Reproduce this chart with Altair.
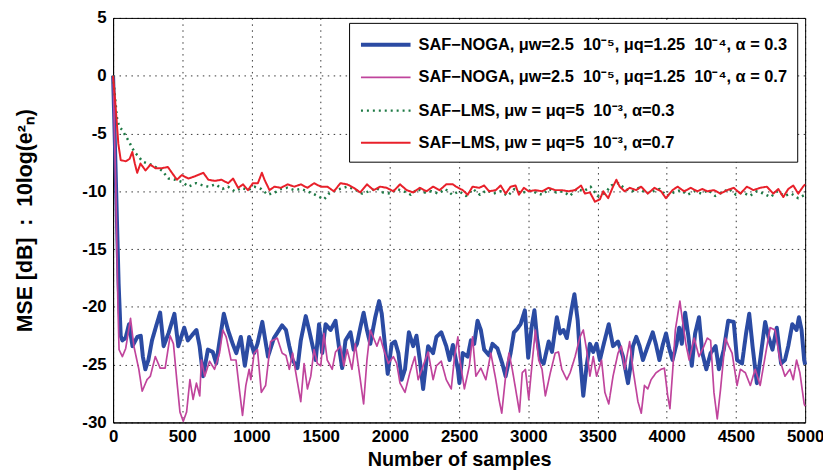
import altair as alt
import pandas as pd

# ---------------- data ----------------
NB = "\u00a0"
L1 = f"SAF−NOGA, μw=2.5{NB}{NB}10⁻⁵, μq=1.25{NB}{NB}10⁻⁴, α = 0.3"
L2 = f"SAF−NOGA, μw=2.5{NB}{NB}10⁻⁵, μq=1.25{NB}{NB}10⁻⁴, α = 0.7"
L3 = f"SAF−LMS, μw = μq=5{NB}{NB}10⁻³, α=0.3"
L4 = f"SAF−LMS, μw = μq=5{NB}{NB}10⁻³, α=0.7"
series_names = [L1, L2, L3, L4]
series_colors = ["#2B4BA3", "#C0449C", "#1E7A45", "#E8202A"]

noga03_x = [0, 20, 40, 55, 67, 90, 115, 140, 175, 200, 215, 233, 255, 281, 315, 340, 365, 400, 443, 471,
            514, 540, 567, 602, 625, 650, 685, 720, 745, 770, 800, 830, 864, 890, 923, 952, 983, 1019, 1043, 1078,
            1119, 1162, 1221, 1249, 1273, 1297, 1332, 1356, 1392, 1416, 1440, 1464, 1488, 1511, 1535, 1571, 1607, 1631, 1655, 1679,
            1715, 1738, 1762, 1786, 1810, 1834, 1858, 1894, 1922, 1941, 1965, 1984, 2013, 2037, 2061, 2085, 2109, 2137, 2168, 2192,
            2216, 2240, 2276, 2312, 2336, 2371, 2407, 2431, 2455, 2491, 2502, 2526, 2562, 2585, 2609, 2633, 2657, 2681, 2717, 2741,
            2777, 2812, 2836, 2872, 2896, 2920, 2944, 2975, 2999, 3023, 3044, 3063, 3087, 3111, 3147, 3171, 3206, 3230, 3254, 3278,
            3314, 3333, 3357, 3373, 3397, 3421, 3445, 3469, 3493, 3517, 3541, 3581, 3612, 3648, 3684, 3720, 3740, 3756, 3780, 3804,
            3828, 3863, 3899, 3923, 3947, 3971, 3995, 4018, 4042, 4071, 4090, 4109, 4133, 4157, 4181, 4205, 4233, 4257, 4286, 4317,
            4353, 4377, 4412, 4444, 4484, 4508, 4544, 4573, 4596, 4620, 4651, 4675, 4711, 4735, 4764, 4795, 4826, 4854, 4878, 4907,
            4938, 4955, 4974, 4993, 5000]
noga03_y = [0, -9, -18, -22.5, -22.9, -22.7, -21.5, -23.4, -22.6, -22.5, -24.3, -25.4, -24.6, -22.9, -21.5, -20.5, -23.4, -22.3, -20.6, -23.4,
            -21.8, -22.9, -22.5, -22.0, -23.4, -26.0, -23.7, -23.9, -24.9, -22.9, -20.6, -22.0, -23.2, -24.0, -22.6, -25.1, -22.6, -24.0, -23.2, -21.3,
            -24.3, -22.7, -21.6, -22.0, -23.4, -24.6, -25.3, -22.9, -20.8, -22.0, -23.3, -24.6, -21.5, -24.0, -21.5, -22.0, -21.2, -23.4, -25.3, -22.9,
            -22.2, -23.7, -23.2, -21.8, -20.5, -22.0, -23.2, -20.9, -19.5, -20.6, -23.4, -25.8, -23.2, -23.0, -24.0, -26.3, -25.4, -22.2, -23.4, -22.5,
            -24.6, -27.1, -23.4, -24.0, -22.6, -22.2, -23.4, -24.6, -23.3, -25.4, -26.6, -24.0, -24.3, -22.9, -23.2, -21.2, -22.0, -23.7, -24.2, -23.2,
            -23.6, -24.9, -26.0, -24.0, -22.2, -21.9, -21.5, -20.3, -24.4, -21.8, -20.3, -22.7, -24.6, -24.9, -23.0, -23.9, -20.9, -22.3, -22.0, -22.7,
            -20.1, -18.9, -21.2, -24.3, -27.7, -25.1, -23.2, -23.9, -23.2, -24.6, -23.4, -21.5, -23.4, -23.0, -24.3, -26.6, -25.0, -23.4, -22.6, -23.4,
            -24.6, -23.4, -22.2, -23.3, -24.6, -23.3, -22.3, -23.6, -24.6, -23.2, -21.8, -23.2, -20.5, -22.6, -25.1, -22.3, -20.9, -24.0, -25.4, -24.0,
            -23.4, -25.4, -23.7, -21.2, -21.3, -24.6, -24.9, -22.3, -20.6, -23.4, -26.6, -24.6, -21.3, -22.6, -23.7, -21.8, -24.9, -24.6, -23.4, -21.5,
            -22.0, -20.9, -22.0, -24.6, -25.0]

noga07_x = [0, 20, 35, 43, 67, 91, 126, 150, 186, 210, 245, 269, 305, 340, 376, 412, 436, 460, 483, 507,
            531, 555, 578, 602, 626, 638, 662, 697, 733, 769, 793, 817, 852, 888, 912, 935, 959, 983, 995, 1019,
            1043, 1071, 1102, 1138, 1186, 1221, 1249, 1273, 1297, 1320, 1356, 1380, 1404, 1428, 1452, 1476, 1500, 1523, 1547, 1583,
            1607, 1643, 1667, 1691, 1726, 1750, 1786, 1810, 1834, 1858, 1882, 1906, 1929, 1953, 1989, 2025, 2049, 2073, 2109, 2144,
            2180, 2204, 2240, 2276, 2312, 2336, 2371, 2407, 2443, 2467, 2491, 2502, 2538, 2574, 2597, 2621, 2657, 2693, 2729, 2765,
            2788, 2808, 2836, 2860, 2884, 2908, 2936, 2956, 2979, 3003, 3027, 3051, 3075, 3099, 3123, 3159, 3194, 3218, 3242, 3278,
            3302, 3338, 3373, 3397, 3421, 3445, 3469, 3493, 3529, 3553, 3581, 3612, 3648, 3672, 3696, 3732, 3756, 3792, 3816, 3839,
            3863, 3887, 3923, 3959, 3983, 4007, 4023, 4042, 4062, 4095, 4114, 4138, 4162, 4198, 4233, 4269, 4293, 4317, 4341, 4365,
            4389, 4424, 4448, 4472, 4508, 4532, 4568, 4604, 4639, 4675, 4711, 4747, 4783, 4818, 4854, 4890, 4914, 4938, 4962, 4993,
            5000]
noga07_y = [0, -10, -20, -23.7, -24.3, -23.6, -21.0, -23.4, -25.4, -27.3, -26.3, -26.0, -24.3, -25.3, -25.3, -22.5, -23.2, -26.3, -29.1, -29.9,
            -29.1, -26.3, -28.0, -26.6, -27.7, -24.6, -26.0, -24.7, -25.4, -24.0, -22.0, -22.6, -24.6, -24.6, -27.1, -29.4, -26.8, -25.4, -26.3, -24.0,
            -23.7, -27.4, -26.8, -23.0, -22.7, -24.0, -24.2, -25.4, -24.0, -25.7, -28.2, -24.9, -27.1, -26.0, -23.7, -24.9, -25.1, -22.3, -24.6, -25.4,
            -23.9, -23.4, -25.1, -23.7, -25.4, -23.2, -26.3, -28.4, -24.6, -22.0, -22.7, -23.4, -22.6, -23.6, -24.9, -24.3, -24.9, -26.6, -27.4, -25.7,
            -24.3, -26.3, -25.1, -23.9, -26.3, -25.1, -24.7, -26.3, -27.1, -24.3, -22.6, -24.3, -27.1, -25.1, -22.6, -26.0, -25.3, -26.3, -24.0, -26.3,
            -28.0, -29.2, -26.0, -24.0, -25.4, -27.1, -29.1, -25.7, -25.4, -28.0, -24.9, -22.0, -24.6, -25.4, -27.7, -25.7, -24.0, -23.9, -25.4, -26.3,
            -25.7, -24.3, -22.6, -22.0, -23.7, -26.0, -24.3, -26.0, -24.6, -27.4, -28.4, -26.0, -24.0, -23.4, -25.4, -23.0, -25.4, -28.2, -29.2, -26.8,
            -27.1, -26.3, -25.7, -25.4, -25.3, -27.7, -28.8, -25.7, -22.0, -19.5, -21.2, -23.2, -24.6, -22.7, -24.3, -23.4, -22.7, -22.9, -27.4, -29.7,
            -27.1, -22.7, -23.4, -24.0, -26.8, -25.4, -25.7, -26.8, -25.4, -26.8, -24.3, -21.8, -22.0, -24.6, -26.0, -25.4, -26.3, -24.6, -25.7, -28.4,
            -28.6]

lms03_x = [0, 15, 30, 50, 67, 90, 115, 140, 162, 185, 210, 250, 280, 320, 353, 400, 449, 500, 544, 600,
           650, 688, 740, 790, 830, 879, 930, 975, 1020, 1070, 1118, 1170, 1213, 1260, 1309, 1360, 1404, 1460, 1524, 1560,
           1610, 1691, 1740, 1800, 1850, 1900, 1950, 2000, 2050, 2100, 2150, 2200, 2250, 2300, 2350, 2400, 2450, 2500, 2550, 2600,
           2650, 2700, 2750, 2800, 2850, 2900, 2950, 3000, 3050, 3100, 3150, 3200, 3250, 3300, 3350, 3400, 3450, 3500, 3550, 3600,
           3650, 3700, 3750, 3800, 3850, 3900, 3950, 4000, 4050, 4100, 4150, 4200, 4250, 4300, 4350, 4400, 4450, 4500, 4550, 4600,
           4650, 4700, 4750, 4800, 4850, 4900, 4950, 5000]
lms03_y = [0, -2.0, -3.9, -4.5, -4.7, -5.2, -5.7, -6.3, -6.7, -7.0, -7.4, -7.6, -7.7, -8.0, -8.2, -8.9, -9.0, -9.2, -9.6, -9.3,
           -9.5, -9.6, -9.4, -9.8, -9.6, -10.0, -9.7, -9.9, -9.6, -9.8, -10.3, -10.1, -9.8, -9.7, -9.9, -9.8, -10.0, -10.3, -10.7, -10.2,
           -9.9, -9.6, -9.8, -10.2, -10.0, -9.7, -10.1, -10.2, -9.8, -10.0, -10.3, -9.8, -10.1, -10.0, -10.2, -9.8, -10.3, -10.0, -10.4, -9.8,
           -10.3, -9.9, -10.2, -10.0, -10.4, -9.8, -10.2, -9.9, -10.1, -10.3, -9.8, -10.1, -10.0, -10.4, -9.8, -10.0, -9.6, -10.4, -10.2, -9.5,
           -9.3, -9.8, -10.0, -9.7, -10.2, -10.0, -9.8, -10.4, -10.1, -9.9, -10.3, -10.0, -10.2, -9.9, -10.4, -10.1, -9.8, -10.3, -10.1, -10.4,
           -10.0, -10.2, -10.5, -10.0, -10.4, -10.2, -10.6, -10.3]

lms07_x = [0, 19, 38, 55, 91, 119, 139, 157, 174, 198, 234, 269, 306, 353, 396, 425, 461, 496, 544, 592,
           652, 688, 735, 783, 831, 867, 903, 939, 974, 1010, 1046, 1075, 1094, 1130, 1166, 1213, 1261, 1309, 1357, 1404,
           1452, 1500, 1548, 1595, 1643, 1691, 1739, 1786, 1834, 1882, 1930, 1977, 2025, 2073, 2121, 2168, 2216, 2264, 2312, 2359,
           2407, 2455, 2478, 2526, 2562, 2597, 2645, 2681, 2717, 2765, 2800, 2836, 2872, 2908, 2932, 2968, 3003, 3051, 3099, 3147,
           3194, 3242, 3290, 3338, 3381, 3409, 3445, 3481, 3517, 3541, 3577, 3612, 3636, 3660, 3696, 3732, 3779, 3815, 3863, 3911,
           3959, 3994, 4042, 4078, 4126, 4173, 4221, 4257, 4293, 4341, 4388, 4436, 4484, 4532, 4579, 4627, 4675, 4723, 4770, 4806,
           4842, 4878, 4914, 4950, 4985, 5000]
lms07_y = [0, -2.8, -5.9, -7.3, -7.4, -7.2, -6.6, -7.6, -8.4, -7.6, -8.2, -7.7, -8.0, -8.0, -7.9, -8.4, -9.0, -8.6, -8.9, -8.7,
           -8.4, -9.0, -9.1, -9.0, -9.3, -8.9, -9.7, -9.4, -9.9, -9.3, -9.3, -8.4, -9.0, -9.9, -9.6, -9.7, -9.4, -9.6, -9.4, -9.7,
           -9.3, -9.6, -9.6, -10.0, -9.3, -9.4, -9.7, -10.1, -9.4, -9.9, -9.6, -9.7, -10.0, -9.4, -9.9, -10.1, -9.7, -10.0, -9.6, -9.9,
           -9.4, -9.4, -9.6, -9.9, -10.3, -9.6, -9.7, -9.5, -10.0, -9.9, -9.5, -10.2, -9.6, -9.5, -10.3, -9.7, -10.0, -9.9, -10.0, -9.7,
           -9.9, -9.9, -10.0, -9.9, -9.5, -10.2, -10.1, -10.9, -10.7, -10.0, -10.6, -9.6, -9.0, -9.6, -10.0, -9.7, -9.9, -9.6, -10.2, -9.7,
           -10.0, -10.6, -9.9, -9.6, -10.0, -9.7, -10.0, -9.8, -10.0, -9.9, -10.2, -9.9, -9.7, -10.2, -9.6, -9.9, -9.7, -9.6, -10.2, -9.8,
           -10.5, -9.8, -9.5, -10.2, -9.6, -9.4]

x_ticks = [0, 500, 1000, 1500, 2000, 2500, 3000, 3500, 4000, 4500, 5000]
y_ticks = [-30, -25, -20, -15, -10, -5, 0, 5]

# ---------------- build table ----------------
frames = []
for name, xs, ys in [(L1, noga03_x, noga03_y), (L2, noga07_x, noga07_y),
                     (L3, lms03_x, lms03_y), (L4, lms07_x, lms07_y)]:
    frames.append(pd.DataFrame({"n": xs, "mse": ys, "series": name}))
df = pd.concat(frames, ignore_index=True)

FONT = "Liberation Sans"

color_enc = alt.Color("series:N", scale=alt.Scale(domain=series_names, range=series_colors),
                      legend=alt.Legend(title=None))
dash_enc = alt.StrokeDash("series:N", scale=alt.Scale(domain=series_names,
                                                      range=[[1, 0], [1, 0], [2, 4], [1, 0]]),
                          legend=alt.Legend(title=None))
width_enc = alt.StrokeWidth("series:N", scale=alt.Scale(type="ordinal", domain=series_names,
                                                        range=[4, 1.7, 2.5, 2]),
                            legend=alt.Legend(title=None))

x_enc = alt.X("n:Q", scale=alt.Scale(domain=[0, 5000], nice=False),
              axis=alt.Axis(values=x_ticks, title="Number of samples", format="d",
                            labelFlush=False, labelOverlap=False))
y_enc = alt.Y("mse:Q", scale=alt.Scale(domain=[-30, 5], nice=False),
              axis=alt.Axis(values=y_ticks, title=f"MSE [dB]{NB}{NB}:{NB}{NB}10log(e²ₙ)",
                            labelExpr="'' + datum.value", labelFlush=False))

layers = []
for name in series_names:
    layers.append(
        alt.Chart(df).transform_filter(alt.datum.series == name)
        .mark_line(strokeCap="butt", strokeJoin="round")
        .encode(x=x_enc, y=y_enc, color=color_enc, strokeDash=dash_enc,
                strokeWidth=width_enc, order="n:Q")
    )

chart = (
    alt.layer(*layers)
    .properties(width=698, height=408,
                autosize=alt.AutoSizeParams(type="none"),
                padding={"left": 106, "top": 8, "right": 18, "bottom": 50})
    .configure_view(stroke="black", strokeWidth=1)
    .configure_axis(
        grid=True, gridColor="#000000", gridDash=[1.5, 4.5], gridWidth=1, gridOpacity=0.8,
        domainColor="black", domainWidth=1, ticks=False,
        labelFont=FONT, labelFontSize=17, labelFontWeight="bold", labelColor="black",
        titleFont=FONT, titleFontSize=20, titleFontWeight="bold", titleColor="black",
    )
    .configure_axisX(labelPadding=6, titlePadding=5)
    .configure_axisY(labelPadding=7, titlePadding=46, titleFontSize=21.5)
    .configure_legend(
        orient="none", legendX=238, legendY=5,
        strokeColor="black", fillColor="white", padding=10,
        labelFont=FONT, labelFontSize=16.5, labelFontWeight="bold", labelColor="black",
        labelLimit=0, symbolType="M-1,0L4,0", symbolSize=400, labelOffset=36,
        rowPadding=13, cornerRadius=0,
    )
)

chart.save("out.html", embed_options={"renderer": "svg", "actions": False})
